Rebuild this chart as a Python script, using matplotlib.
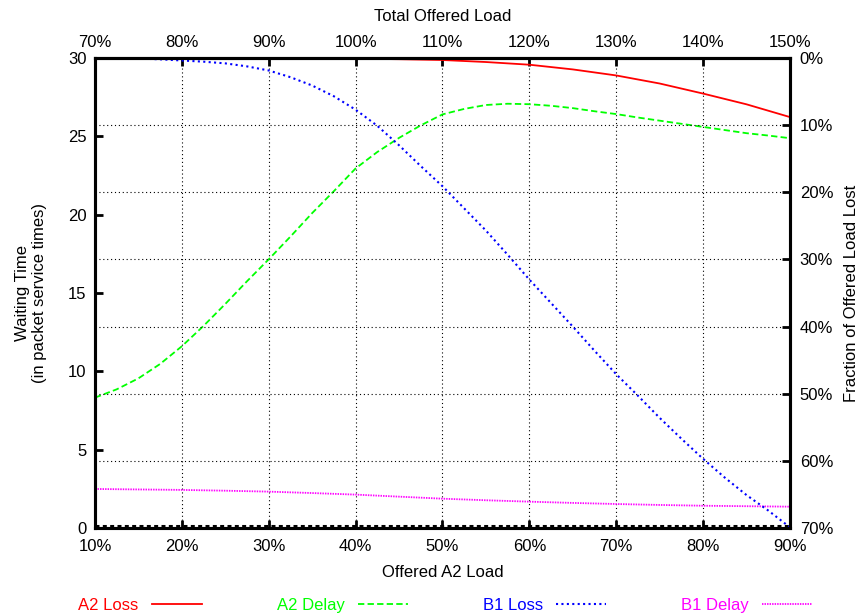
import numpy as np
import matplotlib.pyplot as plt
from matplotlib.ticker import FuncFormatter

plt.rcParams['font.family'] = ['Liberation Sans', 'DejaVu Sans']
plt.rcParams['font.size'] = 12

# offered A2 load (%), the top axis is total load = A2 + 60%
load = [10, 15, 20, 25, 30, 35, 40, 45, 50, 55, 60, 65, 70, 75, 80, 85, 90]
load_fine = [10, 12.5, 15, 17.5, 20, 22.5, 25, 27.5, 30, 32.5, 35, 37.5, 40, 42.5, 45, 47.5, 50,
             52.5, 55, 57.5, 60, 62.5, 65, 67.5, 70, 72.5, 75, 77.5, 80, 82.5, 85, 87.5, 90]

# waiting times (left axis)
a2_delay = [8.32, 8.85, 9.55, 10.47, 11.6, 12.9, 14.3, 15.75, 17.15, 18.6, 20.1, 21.5, 22.95,
            24.0, 24.9, 25.7, 26.4, 26.75, 27.0, 27.08, 27.05, 26.95, 26.8, 26.6, 26.42,
            26.2, 26.0, 25.8, 25.6, 25.4, 25.2, 25.05, 24.88]
b1_delay = [2.49, 2.46, 2.43, 2.38, 2.32, 2.23, 2.13, 2.0, 1.87, 1.77, 1.68, 1.6, 1.53, 1.47, 1.42, 1.39, 1.36]

# fraction lost in % (right axis, reversed)
a2_loss = [0, 0, 0, 0, 0.02, 0.05, 0.1, 0.18, 0.3, 0.6, 1.0, 1.7, 2.6, 3.8, 5.3, 6.9, 8.8]
b1_loss = [0, 0.02, 0.08, 0.2, 0.37, 0.55, 0.8, 1.25, 1.86, 2.86, 4.1, 5.7, 7.7, 10.1, 13.0,
           16.1, 19.1, 22.4, 25.7, 29.3, 33.0, 36.5, 40.0, 43.6, 47.1, 50.3, 53.6, 56.7,
           59.7, 62.5, 65.1, 67.4, 69.9]

pct = FuncFormatter(lambda v, p: '%d%%' % v)
grid_kw = dict(color='k', lw=0.8, dashes=(1, 2.5))

fig, ax = plt.subplots(figsize=(8.58, 6.15), dpi=100)
fig.subplots_adjust(left=0.1107, right=0.9207, bottom=0.1415, top=0.9057)

ax2 = ax.twinx()

l3, = ax.plot(load_fine, a2_delay, color='#00ff00', lw=1.3, dashes=(3.5, 1.8))
l5, = ax.plot(load, b1_delay, color='#ff00ff', lw=1.3, dashes=(0.8, 0.6))
l2, = ax2.plot(load, a2_loss, color='#ff0000', lw=1.3)
l4, = ax2.plot(load_fine, b1_loss, color='#0000ff', lw=1.5, dashes=(1, 1.6))

# gnuplot leaves a dashed zero line on the bottom border
ax.axhline(0.12, color='k', lw=2.2, dashes=(1.3, 1.1))

ax.set_xlim(10, 90)
ax.set_ylim(0, 30)
ax.set_xticks(np.arange(10, 91, 10))
ax.set_yticks(np.arange(0, 31, 5))
ax.xaxis.set_major_formatter(pct)
ax.grid(axis='x', **grid_kw)

ax2.set_ylim(70, 0)
ax2.set_yticks(np.arange(0, 71, 10))
ax2.yaxis.set_major_formatter(pct)
ax2.grid(axis='y', **grid_kw)

top = ax.secondary_xaxis('top', functions=(lambda x: x + 60, lambda x: x - 60))
top.set_xticks(np.arange(70, 151, 10))
top.xaxis.set_major_formatter(pct)

for a in (ax, ax2):
    for s in a.spines.values():
        s.set_linewidth(2.2)
ax.tick_params(direction='in', length=6, width=2, pad=6)
ax.tick_params(axis='x', pad=8)
ax2.tick_params(direction='in', length=6, width=2, pad=7)
top.tick_params(direction='in', length=6, width=2, pad=6)
top.spines['top'].set_linewidth(2.2)

ax.set_xlabel('Offered A2 Load', labelpad=8)
top.set_xlabel('Total Offered Load', labelpad=10)
ax.set_ylabel('Waiting Time\n(in packet service times)', labelpad=15)
ax2.set_ylabel('Fraction of Offered Load Lost', labelpad=8)

fig.legend([l2, l3, l4, l5], ['A2 Loss', 'A2 Delay', 'B1 Loss', 'B1 Delay'],
           loc='center', bbox_to_anchor=(0.519, 0.016), ncol=4, frameon=False,
           markerfirst=False, labelcolor='linecolor', handlelength=3.0,
           handletextpad=0.8, columnspacing=4.5)

plt.savefig('out.png')
